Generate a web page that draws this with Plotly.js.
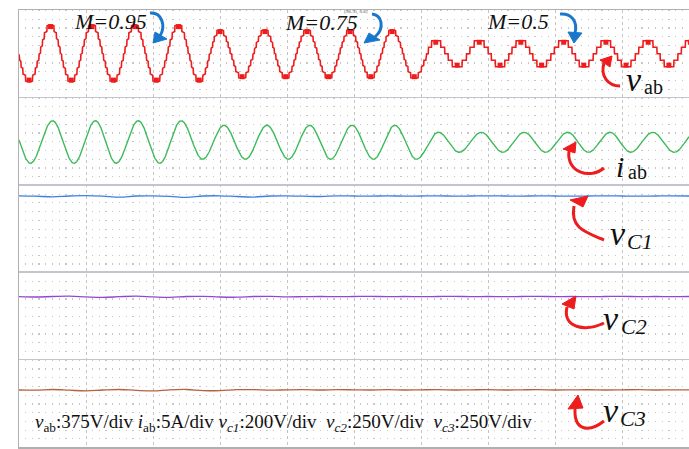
<!DOCTYPE html>
<html><head><meta charset="utf-8">
<script src="https://cdn.plot.ly/plotly-3.0.1.min.js"></script>
<style>html,body{margin:0;padding:0;background:#fff}#c{width:689px;height:449px}</style>
</head><body><div id="c"></div>
<script>
// ---------- data (time in div, values in graticule units; 10 units per channel strip) ----------
// v_ab : successive extrema (peak, trough, peak ...)
const vabT = [-0.17,0.15,0.47,0.78,1.09,1.41,1.73,2.05,2.38,2.69,3.00,3.33,3.67,3.98,4.30,4.62,4.94,5.25,5.57,5.90,6.22,6.54,6.87,7.18,7.49,7.80,8.13,8.43,8.76,9.06,9.39,9.70,10.02];
const vabV = [48.28,41.80,48.28,41.80,48.28,41.80,48.28,41.80,48.28,41.80,47.71,42.19,47.71,42.19,47.71,42.19,47.71,42.19,47.71,42.19,46.49,43.51,46.49,43.51,46.49,43.51,46.49,43.51,46.49,43.51,46.49,43.51,46.49];
const vabCenter = 45.0;
const vabLevelStep = 0.75;
// i_ab : successive extrema
const iabT = [-0.15,0.17,0.50,0.82,1.14,1.45,1.78,2.10,2.42,2.74,3.06,3.38,3.70,4.02,4.34,4.65,4.97,5.29,5.61,5.93,6.26,6.57,6.90,7.22,7.54,7.86,8.19,8.50,8.82,9.13,9.46,9.78,10.10];
const iabV = [37.33,32.46,37.33,32.46,37.33,32.46,37.33,32.46,37.33,32.92,36.81,32.92,36.81,32.92,36.81,32.92,36.81,32.92,36.81,32.92,36.01,33.72,36.01,33.72,36.01,33.72,36.01,33.72,36.01,33.72,36.01,33.72,36.01];
// capacitor voltages sampled every 0.25 div
const dcT = [0,0.25,0.5,0.75,1,1.25,1.5,1.75,2,2.25,2.5,2.75,3,3.25,3.5,3.75,4,4.25,4.5,4.75,5,5.25,5.5,5.75,6,6.25,6.5,6.75,7,7.25,7.5,7.75,8,8.25,8.5,8.75,9,9.25,9.5,9.75,10];
const vC1 = [28.74,28.70,28.62,28.72,28.76,28.70,28.58,28.72,28.74,28.68,28.56,28.72,28.74,28.66,28.60,28.72,28.74,28.70,28.66,28.74,28.72,28.70,28.74,28.70,28.72,28.74,28.70,28.72,28.74,28.72,28.70,28.74,28.72,28.70,28.72,28.74,28.72,28.70,28.72,28.74,28.72];
const vC2 = [17.20,17.16,17.22,17.26,17.18,17.12,17.20,17.26,17.18,17.12,17.22,17.24,17.16,17.14,17.22,17.24,17.18,17.20,17.22,17.20,17.22,17.24,17.20,17.22,17.20,17.22,17.24,17.20,17.22,17.20,17.22,17.24,17.20,17.22,17.20,17.22,17.24,17.20,17.22,17.20,17.22];
const vC3 = [6.52,6.50,6.58,6.50,6.42,6.52,6.58,6.48,6.42,6.54,6.58,6.46,6.44,6.56,6.56,6.50,6.54,6.56,6.52,6.56,6.54,6.52,6.56,6.52,6.54,6.56,6.52,6.54,6.56,6.52,6.54,6.56,6.52,6.54,6.55,6.52,6.54,6.56,6.52,6.54,6.54];
const mLabels = ['M=0.95','M=0.75','M=0.5'];
const scaleText = '<i>v</i><sub>ab</sub>:375V/div <i>i</i><sub>ab</sub>:5A/div <i>v<sub>c1</sub></i>:200V/div  <i>v<sub>c2</sub></i>:250V/div  <i>v<sub>c3</sub></i>:250V/div';

// ---------- helpers ----------
const X0=19, PXDIV=67, Y0=10, PXU=8.74;
const dx = px => (px-X0)/PXDIV;
const dy = py => 50-(py-Y0)/PXU;

function wave(T, V, center, step){
  const xs=[], ys=[];
  let i=0;
  for(let t=0;t<=10.0001;t+=0.004){
    while(i<T.length-2 && t>T[i+1]) i++;
    const f=(t-T[i])/(T[i+1]-T[i]);
    let y=V[i]+(V[i+1]-V[i])*(1-Math.cos(Math.PI*f))/2;
    if(step){
      const A = f<0.5 ? Math.abs(V[i]-center) : Math.abs(V[i+1]-center);
      const n = Math.max(1, Math.round(A/step));
      const s = A/n;
      const q = center + Math.round((y-center)/s)*s;
      const w = n>=3 ? 0.8 : 1.0;   // finer steps look less pronounced on the scope
      y = w*q + (1-w)*y;
    }
    xs.push(t); ys.push(y);
  }
  return {x:xs,y:ys};
}

const RED='#ee1c1c', GREEN='#3dbb5a', BLUE='#3f7fe0', PURPLE='#9246d6', BROWN='#b5613f', ARB='#1a78cc';

const vab = wave(vabT, vabV, vabCenter, vabLevelStep);
const iab = wave(iabT, iabV, null, 0);

const traces = [
  {x:vab.x, y:vab.y, mode:'lines', line:{color:RED,width:1.6}},
  {x:vabT, y:vabV.map(v=>v>vabCenter? v-0.18 : v+0.18), mode:'markers', marker:{symbol:'square',size:5,color:RED}},
  {x:iab.x, y:iab.y, mode:'lines', line:{color:GREEN,width:1.4}},
  {x:dcT, y:vC1, mode:'lines', line:{color:BLUE,width:1.3,shape:'spline'}},
  {x:dcT, y:vC2, mode:'lines', line:{color:PURPLE,width:1.3,shape:'spline'}},
  {x:dcT, y:vC3, mode:'lines', line:{color:BROWN,width:1.3,shape:'spline'}}
];

function P(p){return dx(p[0]).toFixed(4)+','+dy(p[1]).toFixed(4);}
function arrow(s,c1,c2,e,h1,tip,h2,color){
  return [
    {type:'path',xref:'x',yref:'y',path:'M'+P(s)+' C'+P(c1)+' '+P(c2)+' '+P(e),line:{color:color,width:3}},
    {type:'path',xref:'x',yref:'y',path:'M'+P(h1)+' L'+P(tip)+' L'+P(h2)+' Z',fillcolor:color,line:{color:color,width:1}}
  ];
}
const shapes = [].concat(
  arrow([150,13],[162,12],[166,26],[160,36],[155,32],[153,43],[167,39],ARB),
  arrow([372,14],[382,15],[385,28],[375,37],[369,33],[364,43],[380,40],ARB),
  arrow([560,14],[571,13],[578,21],[575,33],[568,32],[574,43],[582,33],ARB),
  arrow([620,86],[608,86],[600,76],[604,63],[600,60],[612,56],[610,67],RED),
  arrow([604,168],[590,180],[566,172],[569,151],[563,149],[576,142],[575,153],RED),
  arrow([604,240],[585,232],[570,228],[574,206],[570,200],[588,196],[583,207],RED),
  arrow([604,323],[585,332],[562,328],[567,307],[562,304],[576,296],[574,309],RED),
  arrow([604,421],[590,432],[574,432],[575,409],[568,409],[578,395],[583,408],RED)
);

const SERIF='Liberation Serif, Times New Roman, serif';
function ann(px,py,text,size,color,xanchor,extra){
  return Object.assign({xref:'x',yref:'y',x:dx(px),y:dy(py),text:text,showarrow:false,
    xanchor:xanchor||'center',yanchor:'middle',font:{family:SERIF,size:size,color:color||'#111'}},extra||{});
}
const annotations = [
  ann(110,21,'<i>'+mLabels[0]+'</i>',22),
  ann(321,22,'<i>'+mLabels[1]+'</i>',22),
  ann(356,12,'(98.75, 0.8)',5,'#555'),
  ann(518,21,'<i>'+mLabels[2]+'</i>',22),
  ann(634,79,'<i>v</i>',34),
  ann(642,87,'ab',20,'#111','left'),
  ann(620,166,'<i>i</i>',30),
  ann(626,172,'ab',20,'#111','left'),
  ann(618,233,'<i>v</i>',34),
  ann(625,241,'<i>C1</i>',22,'#111','left'),
  ann(611,318,'<i>v</i>',34),
  ann(619,326,'<i>C2</i>',22,'#111','left'),
  ann(611,410,'<i>v</i>',34),
  ann(618,418,'<i>C3</i>',22,'#111','left'),
  ann(33,423,scaleText,19,'#111','left'),
  ann(14.5,56,'Ŧ',9,RED),
  ann(15.5,143,'Ŧ',9,GREEN),
  ann(14.5,241,'Ŧ',9,BLUE),
  ann(14.5,320,'Ŧ',9,PURPLE),
  ann(13.5,408,'Ŧ',9,BROWN)
];

const layout = {
  width:689, height:449, margin:{l:19,r:0,t:10,b:2,pad:0},
  paper_bgcolor:'#ffffff', plot_bgcolor:'#ffffff', showlegend:false, hovermode:false,
  xaxis:{range:[0,10], tick0:0, dtick:1, showgrid:true, gridcolor:'#c4c4c4', griddash:'dot', gridwidth:1,
    showticklabels:false, ticks:'', zeroline:false, showline:true, mirror:true, linecolor:'#b0b0b0', linewidth:1.5,
    minor:{tick0:0, dtick:0.1, showgrid:true, gridcolor:'#c6c6c6', griddash:'1.2px,7.54px', gridwidth:1.3, ticks:''}},
  yaxis:{range:[0,50], tick0:0, dtick:10, showgrid:true, gridcolor:'#c4c4ce', gridwidth:1.6,
    showticklabels:false, ticks:'', zeroline:false, showline:true, mirror:true, linecolor:'#b0b0b0', linewidth:1.5},
  shapes:shapes, annotations:annotations
};
Plotly.newPlot('c', traces, layout, {staticPlot:true, displayModeBar:false});
</script></body></html>
